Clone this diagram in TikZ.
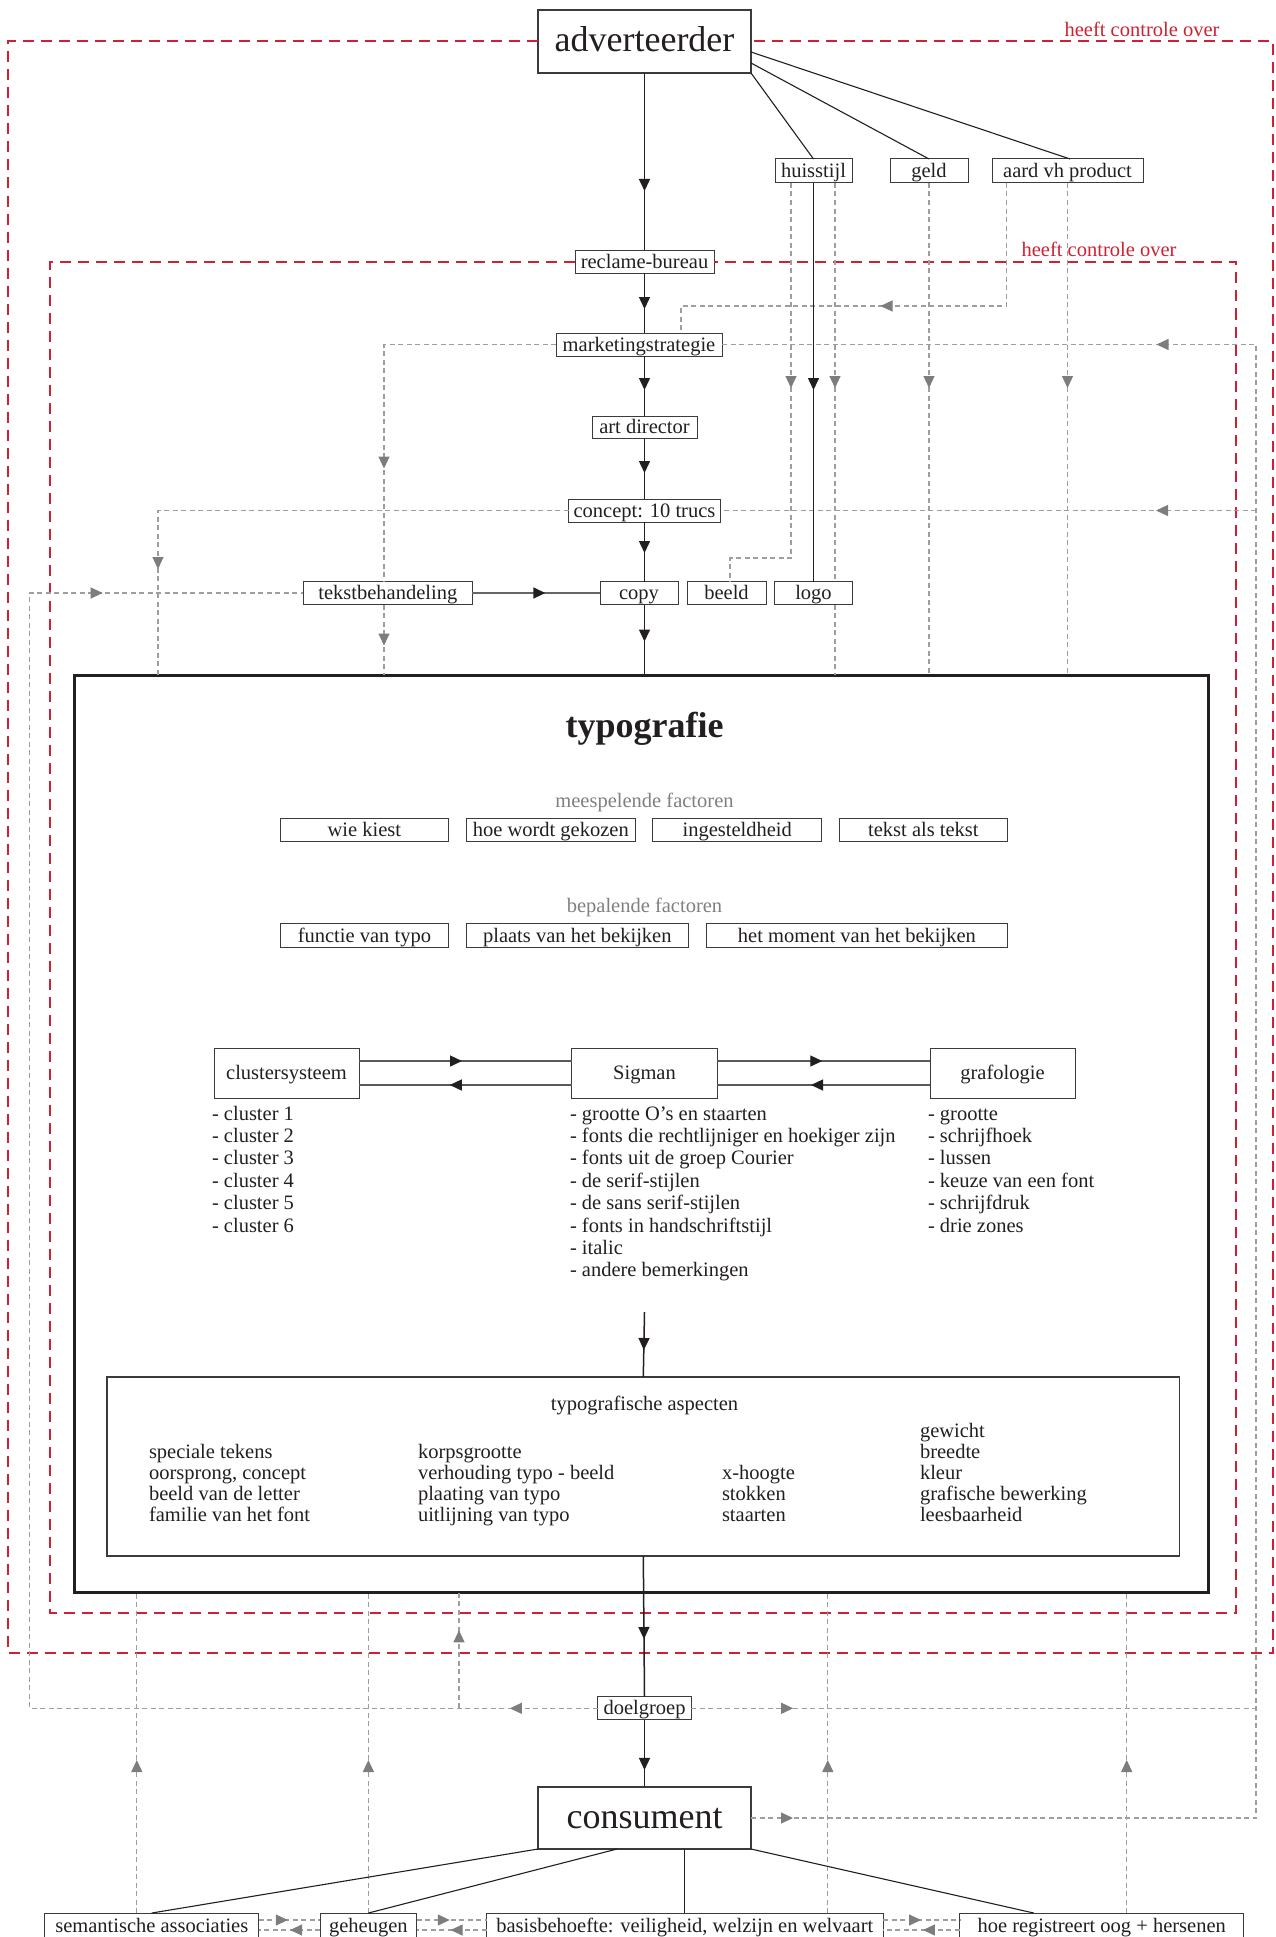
\documentclass[tikz,border=0pt]{standalone}
\usepackage{fontspec}
\setmainfont{Liberation Serif}
\usetikzlibrary{arrows.meta,decorations.markings,calc}
\definecolor{redc}{RGB}{204,34,51}
\definecolor{gline}{RGB}{158,158,158}
\definecolor{garr}{RGB}{125,125,128}
\definecolor{ink}{RGB}{35,31,32}
\definecolor{bord}{RGB}{60,58,60}
\definecolor{gtext}{RGB}{128,128,128}
\newcommand\fsz{\fontsize{20.5}{22.4}\selectfont}
\newcommand\fbg{\fontsize{36}{40}\selectfont}
\newcommand\fttl{\fontsize{36}{40}\selectfont\bfseries}
\tikzset{
  btip/.tip={Triangle[width=11pt,length=12pt,color=ink]},
  gtip/.tip={Triangle[width=11pt,length=12pt,color=garr]},
  am/.style={postaction={decorate,decoration={markings,mark=at position #1 with {\arrow{btip}}}}},
  gm/.style={postaction={decorate,decoration={markings,mark=at position #1 with {\arrow{gtip}}}}},
  bx/.style={draw=bord, line width=1pt, fill=white, font=\fsz, minimum height=23pt, text height=15pt, text depth=2pt},
  bigbx/.style={draw=bord, line width=1.3pt, fill=white, font=\fbg, minimum width=213pt, minimum height=63pt, text height=24pt, text depth=4pt},
  reddash/.style={draw=redc, line width=2pt, dash pattern=on 11pt off 7pt},
  gd/.style={draw=gline, line width=1.2pt, dash pattern=on 5pt off 3.5pt},
  blk/.style={draw=ink, line width=1.5pt},
  thinblk/.style={draw=ink, line width=1.1pt},
  cline/.style={draw=black!65, line width=1.3pt},
  txt/.style={font=\fsz},
  lst/.style={font=\fsz, anchor=base west},
}
\begin{document}
\begin{tikzpicture}[x=1pt,y=-1pt, every node/.append style={inner sep=0pt, outer sep=0pt, text=ink}]
\useasboundingbox (0,0) rectangle (1276,1937);
\fill[white] (0,0) rectangle (1276,1937);

% ---------- top nodes
\node[bigbx] (adv) at (644.5,41.5) {adverteerder};
\node[bx, minimum width=77pt, minimum height=24pt] (hs) at (813.5,171) {huisstijl};
\node[bx, minimum width=78pt, minimum height=24pt] (geld) at (929,171) {geld};
\node[bx, minimum width=151pt, minimum height=24pt] (aard) at (1067.5,171) {aard vh product};
\node[bx, minimum width=139pt] (rb) at (644.5,261.5) {reclame-bureau};
\node[bx, minimum width=166pt] (ms) at (639,344.5) {marketingstrategie};
\node[bx, minimum width=105pt, minimum height=22pt] (ad) at (644.5,427) {art director};
\node[bx, minimum width=152pt] (cc) at (644.5,510.5) {concept: 10 trucs};
\node[bx, minimum width=169pt] (tb) at (387.8,593) {tekstbehandeling};
\node[bx, minimum width=78pt] (cp) at (639,593) {copy};
\node[bx, minimum width=79pt] (be) at (726.5,593) {beeld};
\node[bx, minimum width=78pt] (lg) at (813.5,593) {logo};

\node[txt, text=redc] (lab1) at (1142,29) {heeft controle over};
\node[txt, text=redc] (lab2) at (1099,249) {heeft controle over};

% ---------- typografie frame
\node[draw=ink, line width=3pt, minimum width=1134.6pt, minimum height=917pt] (fr) at (641.3,1133.5) {};
\node[font=\fttl] (ttl) at (644.5,729) {typografie};
\node[txt, text=gtext] (mf) at (644.5,802) {meespelende factoren};
\node[bx, minimum width=168.7pt] (f1) at (364.4,829.5) {wie kiest};
\node[bx, minimum width=168.5pt] (f2) at (550.8,829.5) {hoe wordt gekozen};
\node[bx, minimum width=169.3pt] (f3) at (737.2,829.5) {ingesteldheid};
\node[bx, minimum width=168.8pt] (f4) at (923.4,829.5) {tekst als tekst};
\node[txt, text=gtext] (bf) at (644.5,907) {bepalende factoren};
\node[bx, minimum width=168.7pt, minimum height=23.6pt] (b1) at (364.4,935.5) {functie van typo};
\node[bx, minimum width=221.5pt, minimum height=23.6pt] (b2) at (577.3,935.5) {plaats van het bekijken};
\node[bx, minimum width=301.8pt, minimum height=23.6pt] (b3) at (856.9,935.5) {het moment van het bekijken};

\node[bx, minimum width=145pt, minimum height=50pt] (cs) at (286.5,1073) {clustersysteem};
\node[bx, minimum width=145.5pt, minimum height=50pt] (sig) at (644.5,1073) {Sigman};
\node[bx, minimum width=145pt, minimum height=50pt] (gr) at (1002.5,1073) {grafologie};

\foreach \t [count=\i from 0] in {- cluster 1,- cluster 2,- cluster 3,- cluster 4,- cluster 5,- cluster 6}
  \node[lst] (cl\i) at (212,1120+22.4*\i) {\t};
\foreach \t [count=\i from 0] in {- grootte O’s en staarten,- fonts die rechtlijniger en hoekiger zijn,- fonts uit de groep Courier,- de serif-stijlen,- de sans serif-stijlen,- fonts in handschriftstijl,- italic,- andere bemerkingen}
  \node[lst] (sl\i) at (570,1120+22.4*\i) {\t};
\foreach \t [count=\i from 0] in {- grootte,- schrijfhoek,- lussen,- keuze van een font,- schrijfdruk,- drie zones}
  \node[lst] (gl\i) at (928,1120+22.4*\i) {\t};

\node[draw=bord, line width=1.1pt, minimum width=1072.6pt, minimum height=179pt] (asp) at (643.3,1466.5) {};
\node[txt] (aspt) at (644.5,1405.5) {typografische aspecten};
\foreach \t [count=\i from 1] in {speciale tekens,{oorsprong, concept},beeld van de letter,familie van het font}
  \node[lst] (ac\i) at (149,1437+21*\i) {\t};
\foreach \t [count=\i from 1] in {korpsgrootte,verhouding typo - beeld,plaating van typo,uitlijning van typo}
  \node[lst] (ad\i) at (418,1437+21*\i) {\t};
\foreach \t [count=\i from 2] in {x-hoogte,stokken,staarten}
  \node[lst] (ax\i) at (722,1437+21*\i) {\t};
\foreach \t [count=\i from 0] in {gewicht,breedte,kleur,grafische bewerking,leesbaarheid}
  \node[lst] (ag\i) at (920,1437+21*\i) {\t};

% ---------- bottom nodes
\node[bx, minimum width=93.3pt, minimum height=23.3pt] (dg) at (644.5,1708.3) {doelgroep};
\node[bigbx, minimum height=62pt] (cons) at (644.5,1818) {consument};
\node[bx, minimum width=214pt, minimum height=26pt] (sem) at (151.8,1926) {semantische associaties};
\node[bx, minimum width=96.7pt, minimum height=26pt] (gh) at (368.4,1926) {geheugen};
\node[bx, minimum width=396.4pt, minimum height=26pt] (bb) at (684.8,1926) {basisbehoefte: veiligheid, welzijn en welvaart};
\node[bx, minimum width=283.5pt, minimum height=26pt] (hr) at (1101.7,1926) {hoe registreert oog + hersenen};

% ---------- helper coordinates
\coordinate (o1) at (8,1653);
\coordinate (o2) at (1273,1653);
\coordinate (i1) at (50,1613);
\coordinate (i2) at (1236,1613);
\coordinate (R) at (1256,0);
\coordinate (L) at (29.4,0);
\coordinate (B) at (459,0);
\coordinate (cL) at (158,675);
\coordinate (lgR) at ($(lg.south)+(21.5,0)$);
\coordinate (tbx) at ($(tb.south)+(-3.8,0)$);
\coordinate (s1) at ($(sem.north)+(-15,0)$);
\coordinate (s3) at ($(bb.north)+(143,0)$);
\coordinate (s4) at ($(hr.north)+(25,0)$);
\coordinate (slist) at (644.5,1312);

% ---------- red control areas
\draw[reddash] (adv.west) -- (adv.west -| o1) -- (o1) -- (o2) -- (adv.east -| o2) -- (adv.east);
\draw[reddash] (rb.west) -- (rb.west -| i1) -- (i1) -- (i2) -- (rb.east -| i2) -- (rb.east);

% ---------- grey dashed flows
\draw[gd, gm=205pt] ($(hs.south)+(-22.5,0)$) -- ++(0,375) -| ($(be.north)+(3.5,0)$);
\draw[gd, gm=205pt] ($(hs.south)+(21.5,0)$) -- ($(lg.north)+(21.5,0)$);
\draw[gd] (lgR) -- (lgR |- fr.north);
\draw[gd, gm=205pt] (geld.south) -- (geld.south |- fr.north);
\draw[gd, gm=249pt] ($(aard.south)+(-61,0)$) -- ++(0,123) -| ($(ms.north)+(42,0)$);
\draw[gd, gm=205pt] (aard.south) -- (aard.south |- fr.north);
\draw[gd, gm=296pt] (ms.west) -| ($(tb.north)+(-3.8,0)$);
\draw[gd, gm=41pt] (tbx) -- (tbx |- fr.north);
\draw[gd, gm=469pt] (cc.west) -| (cL);
\draw[gd, gm=42pt, gm=2078pt] (cons.east) -- (cons.east -| R) -- (R |- ms.east) -- (ms.east);
\draw[gd, gm=100pt] (R |- cc.east) -- (cc.east);
\draw[gd, gm=102pt] (dg.east) -- (dg.east -| R);
\draw[gd, gm=88pt, gm=1757pt] (dg.west) -- (dg.west -| L) -- (L |- tb.west) -- (tb.west);
\draw[gd, gm=78pt] (B |- dg.west) -- (B |- fr.south);
\draw[gd, gm=153pt] (s1) -- (s1 |- fr.south);
\draw[gd, gm=153pt] (gh.north) -- (gh.north |- fr.south);
\draw[gd, gm=153pt] (s3) -- (s3 |- fr.south);
\draw[gd, gm=153pt] (s4) -- (s4 |- fr.south);
\draw[gd, gm=29pt] ($(sem.north east)+(0,7)$) -- ($(gh.north west)+(0,7)$);
\draw[gd, gm=30pt] ($(gh.north west)+(0,17)$) -- ($(sem.north east)+(0,17)$);
\draw[gd, gm=33pt] ($(gh.north east)+(0,7)$) -- ($(bb.north west)+(0,7)$);
\draw[gd, gm=36pt] ($(bb.north west)+(0,17)$) -- ($(gh.north east)+(0,17)$);
\draw[gd, gm=38pt] ($(bb.north east)+(0,7)$) -- ($(hr.north west)+(0,7)$);
\draw[gd, gm=37pt] ($(hr.north west)+(0,17)$) -- ($(bb.north east)+(0,17)$);

% ---------- black flows
\draw[thinblk] (adv.south east) -- (hs.north);
\draw[thinblk] ($(adv.east)+(0,21.5)$) -- (geld.north);
\draw[thinblk] ($(adv.east)+(0,10.5)$) -- ($(aard.north)+(2.5,0)$);
\draw[blk, am=118pt] (adv.south) -- (rb.north);
\draw[blk, am=36pt] (rb.south) -- (rb.south |- ms.north);
\draw[blk, am=34pt] (rb.south |- ms.south) -- (ad.north);
\draw[blk, am=35pt] (ad.south) -- (cc.north);
\draw[blk, am=31pt] (cc.south) -- (cc.south |- cp.north);
\draw[blk, am=37pt] (cc.south |- cp.south) -- (cc.south |- fr.north);
\draw[blk, am=207pt] (hs.south) -- (lg.north);
\draw[draw=black!60, line width=1.6pt, am=73pt] (tb.east) -- (cp.west);
\draw[cline, am=103pt] ($(cs.east)+(0,-12)$) -- ($(sig.west)+(0,-12)$);
\draw[cline, am=122pt] ($(sig.west)+(0,12)$) -- ($(cs.east)+(0,12)$);
\draw[cline, am=105pt] ($(sig.east)+(0,-12)$) -- ($(gr.west)+(0,-12)$);
\draw[cline, am=119pt] ($(gr.west)+(0,12)$) -- ($(sig.east)+(0,12)$);
\draw[blk, am=38pt] (slist) -- (asp.north);
\draw[blk, am=83pt] (asp.south) -- (dg.north);
\draw[blk, am=50pt] (dg.south) -- (cons.north);
\draw[thinblk] (cons.south west) -- (sem.north);
\draw[thinblk] ($(cons.south)+(-27.5,0)$) -- (gh.north);
\draw[thinblk] (bb.north |- cons.south) -- (bb.north);
\draw[thinblk] (cons.south east) -- ($(hr.north)+(-68,0)$);
\end{tikzpicture}
\end{document}
